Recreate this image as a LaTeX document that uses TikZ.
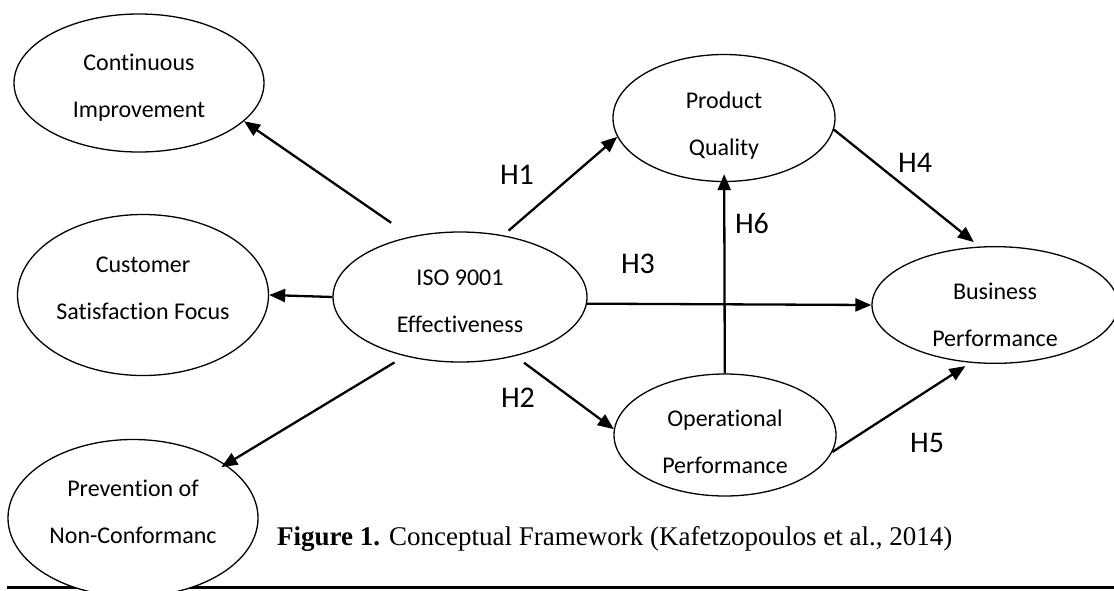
\documentclass[tikz,border=0pt]{standalone}
\usepackage{fontspec}
\setmainfont[RawFeature=-liga]{Carlito}
\newfontfamily\capfont{Liberation Serif}
\usetikzlibrary{arrows.meta,shapes.geometric}

\begin{document}
\begin{tikzpicture}[x=1pt, y=-1pt,
	var/.style={draw, ellipse, fill=white, line width=1.3pt, inner sep=0pt, align=center, text depth=0pt, font=\fontsize{24}{47}\selectfont},
	arr/.style={line width=2.3pt, -{Triangle[length=16pt, width=13pt]}},
	hyp/.style={font=\fontsize{30}{30}\selectfont}]
	\useasboundingbox (0,0) rectangle (1114,590);
	% rule under the figure
	\draw[line width=3pt] (7,587.5) -- (1114,587.5);
	
	\node[var, text height=68.5pt, minimum width=250pt, minimum height=138pt] (ci) at (139,83) {Continuous\\Improvement};
	\node[var, text height=49.5pt, minimum width=251pt, minimum height=161pt] (csf) at (143,295) {Customer\\Satisfaction Focus};
	\node[var, text height=51.5pt, minimum width=250pt, minimum height=157pt] (pnc) at (133,518) {Prevention of\\Non-Conformanc};
	\node[var, text height=71.5pt, minimum width=254pt, minimum height=130pt] (iso) at (460,297) {ISO 9001\\Effectiveness};
	\node[var, text height=74.5pt, minimum width=222pt, minimum height=127pt] (pq) at (724,118) {Product\\Quality};
	\node[var, text height=77.5pt, minimum width=222pt, minimum height=122pt] (op) at (725,435) {Operational\\Performance};
	\node[var, text height=82.5pt, minimum width=246pt, minimum height=116pt] (bp) at (995,305) {Business\\Performance};
	
	% dimensions of ISO 9001
	\draw[arr, shorten <=24pt] (iso.129) -- (ci.-20);
	\draw[arr] (iso.west) -- (csf.east);
	\draw[arr, shorten <=12pt, shorten >=-5pt] (iso.227) -- (pnc.30);
	% hypotheses
	\draw[arr, shorten <=7pt] (iso.55) -- (pq.190);
	\draw[arr, shorten <=11pt] (iso.-47) -- (op.177);
	\draw[arr] (iso.-3) -- (bp.west);
	\draw[arr, shorten >=7pt] (pq.-6) -- (bp.105);
	\draw[arr, shorten >=6pt] (op.-9) -- (bp.-113);
	\draw[arr, shorten >=-8pt] (op) -- (pq);
	
	\node[hyp] (h1) at (517,175) {H1};
	\node[hyp] (h2) at (518,398) {H2};
	\node[hyp] (h3) at (638,264) {H3};
	\node[hyp] (h4) at (915,163) {H4};
	\node[hyp] (h5) at (927,443) {H5};
	\node[hyp] (h6) at (752,223) {H6};
	
	\node[anchor=base west, inner sep=0pt, font=\capfont\fontsize{27}{27}\selectfont] (cap) at (277,545)
		{\textbf{Figure 1.} Conceptual Framework (Kafetzopoulos et al., 2014)};
\end{tikzpicture}
\end{document}
